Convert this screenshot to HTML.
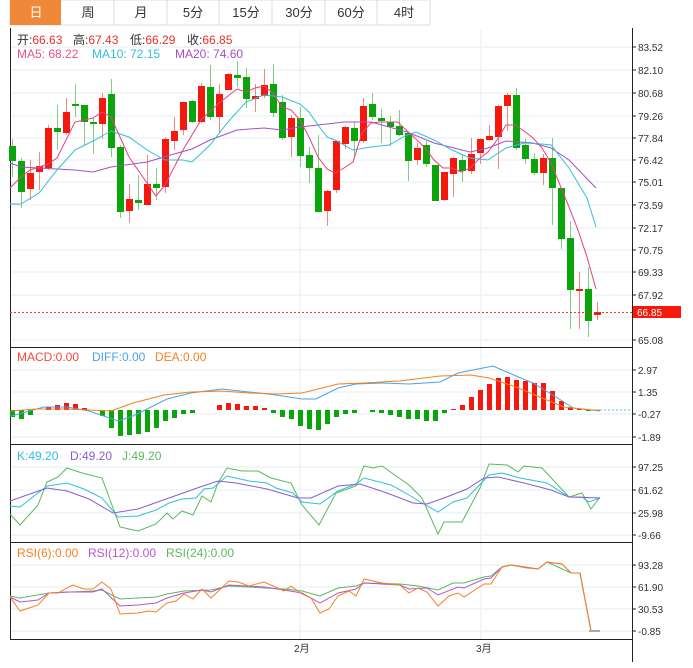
<!DOCTYPE html>
<html><head><meta charset="utf-8"><style>
html,body{margin:0;padding:0;background:#fff;width:693px;height:668px;overflow:hidden}
svg{display:block;font-family:"Liberation Sans","Noto Sans CJK SC",sans-serif}
</style></head><body>
<svg width="693" height="668" viewBox="0 0 693 668">
<!-- tabs -->
<rect x="10" y="0" width="420" height="25" fill="#fff" stroke="#ddd"/>
<rect x="10" y="0" width="51" height="25" fill="#f0883a"/>
<g stroke="#ddd"><line x1="114" y1="0" x2="114" y2="25"/><line x1="167" y1="0" x2="167" y2="25"/><line x1="219" y1="0" x2="219" y2="25"/><line x1="272" y1="0" x2="272" y2="25"/><line x1="325" y1="0" x2="325" y2="25"/><line x1="377" y1="0" x2="377" y2="25"/></g>
<g font-size="13" text-anchor="middle" fill="#333">
<text x="36" y="17" fill="#fff">日</text><text x="88" y="17">周</text><text x="141" y="17">月</text><text x="193" y="17">5分</text><text x="246" y="17">15分</text><text x="299" y="17">30分</text><text x="351" y="17">60分</text><text x="404" y="17">4时</text></g>
<!-- grid -->
<g stroke="#e6edf3" stroke-width="1">
<line x1="10" y1="47" x2="632" y2="47"/><line x1="10" y1="70" x2="632" y2="70"/><line x1="10" y1="93" x2="632" y2="93"/><line x1="10" y1="116" x2="632" y2="116"/><line x1="10" y1="138" x2="632" y2="138"/><line x1="10" y1="160" x2="632" y2="160"/><line x1="10" y1="182" x2="632" y2="182"/><line x1="10" y1="205" x2="632" y2="205"/><line x1="10" y1="228" x2="632" y2="228"/><line x1="10" y1="250" x2="632" y2="250"/><line x1="10" y1="272" x2="632" y2="272"/><line x1="10" y1="295" x2="632" y2="295"/><line x1="10" y1="317" x2="632" y2="317"/><line x1="10" y1="340" x2="632" y2="340"/>
<line x1="10" y1="370" x2="632" y2="370"/><line x1="10" y1="392" x2="632" y2="392"/><line x1="10" y1="414" x2="632" y2="414"/><line x1="10" y1="437" x2="632" y2="437"/>
<line x1="10" y1="467" x2="632" y2="467"/><line x1="10" y1="490" x2="632" y2="490"/><line x1="10" y1="513" x2="632" y2="513"/><line x1="10" y1="535" x2="632" y2="535"/>
<line x1="10" y1="565" x2="632" y2="565"/><line x1="10" y1="587" x2="632" y2="587"/><line x1="10" y1="609" x2="632" y2="609"/><line x1="10" y1="631" x2="632" y2="631"/>
<line x1="300" y1="30" x2="300" y2="639"/><line x1="481" y1="30" x2="481" y2="639"/>
</g>
<!-- frame -->
<g stroke="#222" stroke-width="1">
<line x1="10.5" y1="28" x2="10.5" y2="639"/><line x1="632.5" y1="28" x2="632.5" y2="662"/>
<line x1="10" y1="347.5" x2="632" y2="347.5"/><line x1="10" y1="444.5" x2="632" y2="444.5"/><line x1="10" y1="542.5" x2="632" y2="542.5"/><line x1="10" y1="639.5" x2="632" y2="639.5"/>
</g>
<g stroke="#222"><line x1="632" y1="47" x2="636" y2="47"/><line x1="632" y1="70" x2="636" y2="70"/><line x1="632" y1="93" x2="636" y2="93"/><line x1="632" y1="116" x2="636" y2="116"/><line x1="632" y1="138" x2="636" y2="138"/><line x1="632" y1="160" x2="636" y2="160"/><line x1="632" y1="182" x2="636" y2="182"/><line x1="632" y1="205" x2="636" y2="205"/><line x1="632" y1="228" x2="636" y2="228"/><line x1="632" y1="250" x2="636" y2="250"/><line x1="632" y1="272" x2="636" y2="272"/><line x1="632" y1="295" x2="636" y2="295"/><line x1="632" y1="340" x2="636" y2="340"/>
<line x1="632" y1="370" x2="636" y2="370"/><line x1="632" y1="392" x2="636" y2="392"/><line x1="632" y1="414" x2="636" y2="414"/><line x1="632" y1="437" x2="636" y2="437"/><line x1="632" y1="467" x2="636" y2="467"/><line x1="632" y1="490" x2="636" y2="490"/><line x1="632" y1="513" x2="636" y2="513"/><line x1="632" y1="535" x2="636" y2="535"/><line x1="632" y1="565" x2="636" y2="565"/><line x1="632" y1="587" x2="636" y2="587"/><line x1="632" y1="609" x2="636" y2="609"/><line x1="632" y1="631" x2="636" y2="631"/></g>
<g font-size="10" fill="#333">
<text x="638" y="51">83.52</text><text x="638" y="74">82.10</text><text x="638" y="97">80.68</text><text x="638" y="120">79.26</text><text x="638" y="142">77.84</text><text x="638" y="164">76.42</text><text x="638" y="186">75.01</text><text x="638" y="209">73.59</text><text x="638" y="232">72.17</text><text x="638" y="254">70.75</text><text x="638" y="276">69.33</text><text x="638" y="299">67.92</text><text x="638" y="344">65.08</text>
<text x="638" y="374">2.97</text><text x="638" y="396">1.35</text><text x="638" y="418">-0.27</text><text x="638" y="441">-1.89</text>
<text x="638" y="471">97.25</text><text x="638" y="494">61.62</text><text x="638" y="517">25.98</text><text x="638" y="539">-9.66</text>
<text x="638" y="569">93.28</text><text x="638" y="591">61.90</text><text x="638" y="613">30.53</text><text x="638" y="635">-0.85</text>
<text x="294" y="652">2月</text><text x="476" y="652">3月</text>
</g>
<!-- legends -->
<g font-size="12">
<text x="17" y="44" fill="#333">开:<tspan fill="#e8322a">66.63</tspan></text>
<text x="73" y="44" fill="#333">高:<tspan fill="#e8322a">67.43</tspan></text>
<text x="130" y="44" fill="#333">低:<tspan fill="#e8322a">66.29</tspan></text>
<text x="187" y="44" fill="#333">收:<tspan fill="#e8322a">66.85</tspan></text>
<text x="17" y="58" fill="#e8508a">MA5: 68.22</text>
<text x="92" y="58" fill="#2ec0db">MA10: 72.15</text>
<text x="175" y="58" fill="#a64fc4">MA20: 74.60</text>
<text x="17" y="361" fill="#f0483a">MACD:0.00</text>
<text x="92" y="361" fill="#4aa3e8">DIFF:0.00</text>
<text x="155" y="361" fill="#f5801e">DEA:0.00</text>
<text x="17" y="460" fill="#2ec0db">K:49.20</text>
<text x="70" y="460" fill="#8a5cd0">D:49.20</text>
<text x="122" y="460" fill="#5cb85c">J:49.20</text>
<text x="17" y="557" fill="#f5801e">RSI(6):0.00</text>
<text x="88" y="557" fill="#b855d0">RSI(12):0.00</text>
<text x="166" y="557" fill="#5cb85c">RSI(24):0.00</text>
</g>
<!-- candles -->
<g id="c">
<g stroke-width="1">
<g stroke="#7fcf7f">
<line x1="12.5" y1="139" x2="12.5" y2="177"/><line x1="21.5" y1="158" x2="21.5" y2="208"/><line x1="57.5" y1="105" x2="57.5" y2="150"/><line x1="75.5" y1="84" x2="75.5" y2="117"/><line x1="84.5" y1="105" x2="84.5" y2="145"/><line x1="93.5" y1="118" x2="93.5" y2="154"/><line x1="111.5" y1="79" x2="111.5" y2="157"/><line x1="120.5" y1="145" x2="120.5" y2="218"/><line x1="138.5" y1="175" x2="138.5" y2="210"/><line x1="156.5" y1="168" x2="156.5" y2="200"/><line x1="192.5" y1="100" x2="192.5" y2="123"/><line x1="210.5" y1="65" x2="210.5" y2="120"/><line x1="237.5" y1="61" x2="237.5" y2="87"/><line x1="246.5" y1="68" x2="246.5" y2="108"/><line x1="273.5" y1="64" x2="273.5" y2="117"/><line x1="282.5" y1="95" x2="282.5" y2="140"/><line x1="300.5" y1="107" x2="300.5" y2="167"/><line x1="309.5" y1="147" x2="309.5" y2="183"/><line x1="318.5" y1="135" x2="318.5" y2="212"/><line x1="354.5" y1="122" x2="354.5" y2="158"/><line x1="372.5" y1="93" x2="372.5" y2="120"/><line x1="381.5" y1="109" x2="381.5" y2="143"/><line x1="390.5" y1="116" x2="390.5" y2="146"/><line x1="399.5" y1="110" x2="399.5" y2="136"/><line x1="408.5" y1="133" x2="408.5" y2="181"/><line x1="426.5" y1="141" x2="426.5" y2="167"/><line x1="435.5" y1="165" x2="435.5" y2="201"/><line x1="462.5" y1="154" x2="462.5" y2="182"/><line x1="516.5" y1="88" x2="516.5" y2="150"/><line x1="525.5" y1="139" x2="525.5" y2="164"/><line x1="534.5" y1="153" x2="534.5" y2="175"/><line x1="552.5" y1="138" x2="552.5" y2="225"/><line x1="561.5" y1="188" x2="561.5" y2="249"/><line x1="570.5" y1="221" x2="570.5" y2="329"/><line x1="588.5" y1="267" x2="588.5" y2="337"/>
</g>
<g stroke="#f08a80">
<line x1="30.5" y1="160" x2="30.5" y2="200"/><line x1="39.5" y1="152" x2="39.5" y2="190"/><line x1="48.5" y1="125" x2="48.5" y2="170"/><line x1="66.5" y1="98" x2="66.5" y2="135"/><line x1="102.5" y1="93" x2="102.5" y2="139"/><line x1="129.5" y1="184" x2="129.5" y2="223"/><line x1="147.5" y1="155" x2="147.5" y2="205"/><line x1="165.5" y1="137" x2="165.5" y2="193"/><line x1="174.5" y1="117" x2="174.5" y2="150"/><line x1="183.5" y1="102" x2="183.5" y2="135"/><line x1="201.5" y1="83" x2="201.5" y2="123"/><line x1="219.5" y1="84" x2="219.5" y2="133"/><line x1="228.5" y1="73" x2="228.5" y2="90"/><line x1="255.5" y1="84" x2="255.5" y2="112"/><line x1="264.5" y1="69" x2="264.5" y2="98"/><line x1="291.5" y1="115" x2="291.5" y2="157"/><line x1="327.5" y1="190" x2="327.5" y2="226"/><line x1="336.5" y1="140" x2="336.5" y2="193"/><line x1="345.5" y1="126" x2="345.5" y2="149"/><line x1="363.5" y1="98" x2="363.5" y2="143"/><line x1="417.5" y1="143" x2="417.5" y2="165"/><line x1="444.5" y1="172" x2="444.5" y2="201"/><line x1="453.5" y1="157" x2="453.5" y2="197"/><line x1="471.5" y1="138" x2="471.5" y2="174"/><line x1="480.5" y1="138" x2="480.5" y2="164"/><line x1="489.5" y1="125" x2="489.5" y2="141"/><line x1="498.5" y1="105" x2="498.5" y2="169"/><line x1="507.5" y1="93" x2="507.5" y2="131"/><line x1="543.5" y1="154" x2="543.5" y2="185"/><line x1="579.5" y1="272" x2="579.5" y2="329"/><line x1="597.5" y1="302" x2="597.5" y2="320"/>
</g></g>
<g fill="#0aa50a">
<rect x="9" y="146" width="7" height="15"/><rect x="18" y="161" width="7" height="31"/><rect x="54" y="128" width="7" height="4"/><rect x="72" y="104" width="7" height="2"/><rect x="81" y="105" width="7" height="17"/><rect x="90" y="122" width="7" height="2"/><rect x="108" y="94" width="7" height="54"/><rect x="117" y="147" width="7" height="65"/><rect x="135" y="200" width="7" height="3"/><rect x="153" y="184" width="7" height="4"/><rect x="189" y="101" width="7" height="21"/><rect x="207" y="87" width="7" height="30"/><rect x="234" y="75" width="7" height="3"/><rect x="243" y="77" width="7" height="22"/><rect x="270" y="84" width="7" height="29"/><rect x="279" y="102" width="7" height="36"/><rect x="297" y="118" width="7" height="38"/><rect x="306" y="155" width="7" height="13"/><rect x="315" y="168" width="7" height="44"/><rect x="351" y="128" width="7" height="13"/><rect x="369" y="104" width="7" height="13"/><rect x="378" y="118" width="7" height="3"/><rect x="387" y="122" width="7" height="5"/><rect x="396" y="126" width="7" height="9"/><rect x="405" y="133" width="7" height="28"/><rect x="423" y="145" width="7" height="19"/><rect x="432" y="165" width="7" height="36"/><rect x="459" y="160" width="7" height="11"/><rect x="513" y="95" width="7" height="53"/><rect x="522" y="145" width="7" height="14"/><rect x="531" y="159" width="7" height="14"/><rect x="549" y="158" width="7" height="30"/><rect x="558" y="188" width="7" height="51"/><rect x="567" y="238" width="7" height="52"/><rect x="585" y="289" width="7" height="32"/>
</g>
<g fill="#f5180c">
<rect x="27" y="173" width="7" height="16"/><rect x="36" y="166" width="7" height="6"/><rect x="45" y="128" width="7" height="40"/><rect x="63" y="112" width="7" height="21"/><rect x="99" y="98" width="7" height="26"/><rect x="126" y="199" width="7" height="12"/><rect x="144" y="184" width="7" height="21"/><rect x="162" y="139" width="7" height="48"/><rect x="171" y="131" width="7" height="10"/><rect x="180" y="102" width="7" height="28"/><rect x="198" y="86" width="7" height="36"/><rect x="216" y="94" width="7" height="23"/><rect x="225" y="74" width="7" height="16"/><rect x="252" y="96" width="7" height="3"/><rect x="261" y="85" width="7" height="11"/><rect x="288" y="118" width="7" height="19"/><rect x="324" y="191" width="7" height="20"/><rect x="333" y="141" width="7" height="49"/><rect x="342" y="127" width="7" height="17"/><rect x="360" y="106" width="7" height="35"/><rect x="414" y="148" width="7" height="12"/><rect x="441" y="172" width="7" height="28"/><rect x="450" y="158" width="7" height="16"/><rect x="468" y="154" width="7" height="17"/><rect x="477" y="139" width="7" height="14"/><rect x="486" y="136" width="7" height="4"/><rect x="495" y="106" width="7" height="31"/><rect x="504" y="95" width="7" height="11"/><rect x="540" y="158" width="7" height="15"/><rect x="576" y="289" width="7" height="2"/><rect x="594" y="312" width="7" height="3"/>
</g></g>
<!-- MA lines -->
<g fill="none" stroke-width="1">
<polyline stroke="#a64fc4" points="10,163 21,167 39,168 75,170 93,172 111,167 147,162 174,154 192,149 210,140 237,130 264,128 282,130 300,127 327,124 344,122 371,122 407,132 434,143 470,152 488,148 506,141 533,143 551,148 569,160 596,188"/>
<polyline stroke="#2ec0db" points="10,204 21,204 39,193 57,170 75,150 93,141 111,131 129,137 147,150 165,160 183,160 192,162 210,145 228,122 246,102 264,95 282,97 300,104 309,112 318,125 327,137 335,140 353,150 371,147 389,145 407,135 416,132 434,140 452,150 470,158 488,160 506,148 524,143 542,144 551,145 569,168 587,198 596,227"/>
<polyline stroke="#e8407d" points="10,188 21,177 30,170 48,164 57,158 75,122 93,118 102,112 111,117 129,157 147,183 156,196 165,185 183,150 201,120 219,103 237,89 246,92 255,88 264,86 273,93 282,107 291,110 300,120 309,137 318,157 327,169 335,173 344,168 353,162 362,133 371,123 380,122 398,122 407,131 416,139 425,148 434,160 443,168 452,168 461,172 470,168 479,159 488,152 497,140 506,125 515,125 524,131 533,138 542,148 551,163 560,185 569,207 578,230 587,257 596,289"/>
</g>
<line x1="10" y1="312.5" x2="632" y2="312.5" stroke="#e8322a" stroke-dasharray="2,2"/>
<rect x="633" y="306" width="48" height="12" fill="#f51a0a"/>
<text x="637" y="316" font-size="10" fill="#fff">66.85</text>
<!-- MACD -->
<g fill="#0aa50a">
<rect x="10" y="410" width="5" height="7"/><rect x="19" y="410" width="5" height="9"/><rect x="28" y="410" width="5" height="5"/><rect x="100" y="410" width="5" height="6"/><rect x="109" y="410" width="5" height="18"/><rect x="118" y="410" width="5" height="26"/><rect x="127" y="410" width="5" height="25"/><rect x="136" y="410" width="5" height="24"/><rect x="145" y="410" width="5" height="22"/><rect x="154" y="410" width="5" height="18"/><rect x="163" y="410" width="5" height="11"/><rect x="172" y="410" width="5" height="8"/><rect x="181" y="410" width="5" height="4"/><rect x="190" y="410" width="5" height="3"/>
<rect x="271" y="410" width="5" height="3"/><rect x="280" y="410" width="5" height="7"/><rect x="289" y="410" width="5" height="9"/><rect x="298" y="410" width="5" height="16"/><rect x="307" y="410" width="5" height="19"/><rect x="316" y="410" width="5" height="20"/><rect x="325" y="410" width="5" height="14"/><rect x="334" y="410" width="5" height="7"/><rect x="343" y="410" width="5" height="4"/><rect x="352" y="410" width="5" height="3"/><rect x="370" y="410" width="5" height="2"/><rect x="379" y="410" width="5" height="3"/><rect x="388" y="410" width="5" height="5"/><rect x="397" y="410" width="5" height="7"/><rect x="406" y="410" width="5" height="9"/><rect x="415" y="410" width="5" height="9"/><rect x="424" y="410" width="5" height="11"/><rect x="433" y="410" width="5" height="11"/><rect x="442" y="410" width="5" height="3"/><rect x="586" y="410" width="5" height="1"/>
</g>
<g fill="#f5180c">
<rect x="46" y="407" width="5" height="3"/><rect x="55" y="405" width="5" height="5"/><rect x="64" y="403" width="5" height="7"/><rect x="73" y="404" width="5" height="6"/><rect x="82" y="408" width="5" height="2"/><rect x="217" y="405" width="5" height="5"/><rect x="226" y="403" width="5" height="7"/><rect x="235" y="404" width="5" height="6"/><rect x="244" y="406" width="5" height="4"/><rect x="253" y="406" width="5" height="4"/><rect x="262" y="408" width="5" height="2"/>
<rect x="451" y="409" width="5" height="1"/><rect x="460" y="405" width="5" height="5"/><rect x="469" y="397" width="5" height="13"/><rect x="478" y="390" width="5" height="20"/><rect x="487" y="384" width="5" height="26"/><rect x="496" y="378" width="5" height="32"/><rect x="505" y="377" width="5" height="33"/><rect x="514" y="380" width="5" height="30"/><rect x="523" y="381" width="5" height="29"/><rect x="532" y="383" width="5" height="27"/><rect x="541" y="383" width="5" height="27"/><rect x="550" y="391" width="5" height="19"/><rect x="559" y="401" width="5" height="9"/><rect x="568" y="407" width="5" height="3"/><rect x="577" y="409" width="5" height="1"/>
</g>
<line x1="600" y1="410" x2="632" y2="410" stroke="#4ac8e8" stroke-dasharray="2,2"/>
<g fill="none" stroke-width="1">
<polyline stroke="#4aa3e8" points="11,416 44,407 67,407 89,411 118,421 133,416 167,399 191,393 222,389 249,392 276,395 302,399 316,399 338,388 356,384 382,383 409,384 440,382 458,373 493,366 516,376 533,383 556,397 573,408 591,410 600,411"/>
<polyline stroke="#f5801e" points="11,411 36,409 67,409 111,411 133,403 164,395 191,392 222,391 249,393 276,394 302,393 338,384 364,383 400,381 440,376 471,375 489,378 516,387 542,398 564,407 591,410 600,410"/>
</g>
<!-- KDJ -->
<g fill="none" stroke-width="1">
<polyline stroke="#5cb85c" points="10,514 20,525 38,505 47,482 58,477 67,468 82,473 102,478 120,527 138,531 156,524 167,513 173,519 182,511 193,515 202,496 211,502 218,483 227,468 242,471 258,471 271,478 291,483 302,505 319,525 336,493 356,486 364,466 373,468 382,466 409,485 422,498 438,534 444,522 462,522 480,488 489,464 507,465 518,472 524,466 542,468 569,497 582,493 591,509 600,497"/>
<polyline stroke="#2ec0db" points="10,506 20,507 47,486 67,483 84,489 102,498 118,517 138,516 156,510 169,503 182,499 196,498 204,489 213,488 227,476 249,481 267,483 276,488 293,493 302,502 320,504 338,491 356,484 364,478 391,485 409,495 422,503 438,512 453,502 467,498 489,475 502,473 520,478 547,483 569,497 582,497 589,502 600,498"/>
<polyline stroke="#8a5cd0" points="10,501 27,495 47,488 67,491 89,499 113,513 138,509 169,498 200,487 218,481 236,483 267,489 298,498 311,498 338,486 360,484 387,493 413,503 427,504 444,498 467,489 484,478 498,477 524,483 551,490 569,497 600,498"/>
</g>
<!-- RSI -->
<g fill="none" stroke-width="1">
<polyline stroke="#5cb85c" points="10,596 20,598 49,593 93,591 102,590 120,599 156,597 167,594 184,591 211,590 229,586 284,589 302,591 320,596 338,588 356,586 364,583 400,584 418,586 438,590 453,583 464,583 484,577 491,576 502,567 511,565 538,569 547,562 571,573 580,573 591,631 600,631"/>
<polyline stroke="#b855d0" points="10,597 20,602 38,600 49,593 67,592 93,592 102,589 120,606 138,605 156,603 167,598 184,593 202,590 211,592 229,585 264,587 284,590 302,593 320,603 338,593 356,589 364,583 400,585 409,589 427,588 438,595 458,587 464,588 484,579 491,578 502,567 511,565 538,569 547,562 562,564 571,573 580,573 591,631 600,631"/>
<polyline stroke="#f5801e" points="10,597 20,611 38,605 49,593 58,593 67,588 73,585 84,589 93,589 102,582 111,589 120,614 138,613 149,611 156,612 167,603 176,601 184,594 193,599 202,589 211,598 229,581 238,582 249,586 264,582 273,586 284,591 291,586 302,594 311,598 320,613 329,609 338,596 349,591 356,596 364,579 382,583 400,585 409,593 418,588 427,592 438,606 449,596 458,593 464,597 484,584 491,584 502,567 511,565 527,568 538,569 547,562 562,564 571,573 580,573 591,631 600,631"/>
</g>
<line x1="589" y1="631" x2="600" y2="631" stroke="#aaa" stroke-width="2"/>
</svg>
</body></html>
